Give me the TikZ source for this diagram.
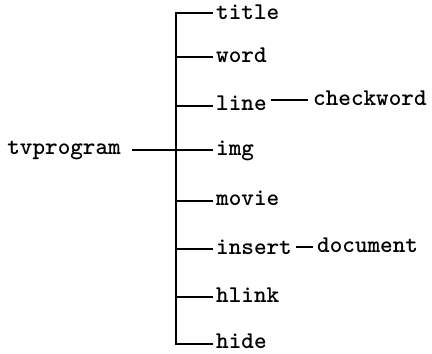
\documentclass[tikz,border=0pt]{standalone}
\begin{document}
\begin{tikzpicture}[x=1pt,y=-1pt,
  lbl/.style={inner sep=0pt,font=\fontsize{24}{24}\selectfont\ttfamily\bfseries},
  lnk/.style={line width=1.8pt,line cap=butt}]
\useasboundingbox (0,0) rectangle (432,354);
% spine coordinates
\coordinate (s1) at (176,13);
\coordinate (s2) at (176,57);
\coordinate (s3) at (176,106);
\coordinate (s4) at (176,150);
\coordinate (s5) at (176,201);
\coordinate (s6) at (176,249);
\coordinate (s7) at (176,297);
\coordinate (s8) at (176,344);
\coordinate (d1) at (0,100);
\coordinate (d2) at (0,247);
% nodes
\node[lbl,anchor=mid west] (title) at (216,17) {title};
\node[lbl,anchor=mid west] (word) at (216,60) {word};
\node[lbl,anchor=mid west] (line) at (216,108) {line};
\node[lbl,anchor=mid west] (img) at (216,153) {img};
\node[lbl,anchor=mid west] (movie) at (216,203) {movie};
\node[lbl,anchor=mid west] (insert) at (216,252) {insert};
\node[lbl,anchor=mid west] (hlink) at (216,300) {hlink};
\node[lbl,anchor=mid west] (hide) at (216,346) {hide};
\node[lbl,anchor=mid east] (tv) at (121,152) {tvprogram};
\node[lbl,anchor=mid west] (checkword) at (313,103) {checkword};
\node[lbl,anchor=mid west] (document) at (317,250) {document};
% tree
\draw[lnk,line join=miter] ([xshift=-3pt]s1 -| title.west) -- (s1) -- (s8) -- ([xshift=-3pt]s8 -| hide.west);
\foreach \s/\n in {s2/word,s3/line,s5/movie,s6/insert,s7/hlink}
  \draw[lnk] (\s) -- ([xshift=-3pt]\s -| \n.west);
\draw[lnk] ([xshift=11pt]s4 -| tv.east) -- ([xshift=-3pt]s4 -| img.west);
\draw[lnk] ([xshift=4pt]d1 -| line.east) -- ([xshift=-5pt]d1 -| checkword.west);
\draw[lnk] ([xshift=4pt]d2 -| insert.east) -- ([xshift=-4pt]d2 -| document.west);
\end{tikzpicture}
\end{document}
